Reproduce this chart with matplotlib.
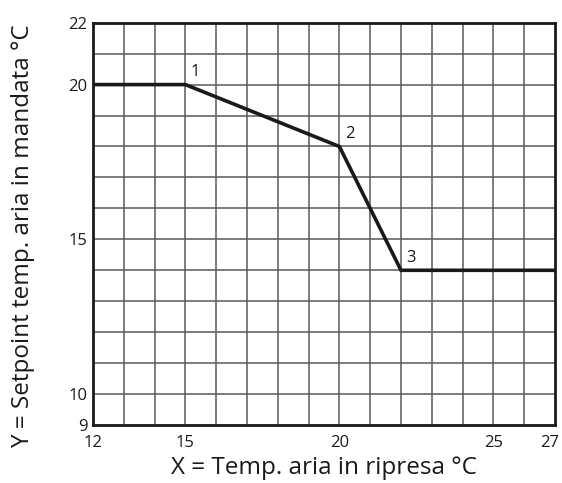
import matplotlib
matplotlib.use("Agg")
import matplotlib.pyplot as plt
from matplotlib.transforms import ScaledTranslation

plt.rcParams['font.family'] = ['Open Sans', 'DejaVu Sans']

# curve points (x = return air temp, y = supply setpoint)
x_vals = [12, 15, 20, 22, 27]
y_vals = [20, 20, 18, 14, 14]

# numbered break points
point_labels = ["1", "2", "3"]
point_x = [15, 20, 22]
point_y = [20, 18, 14]

x_ticks = [12, 15, 20, 25, 27]
y_ticks = [9, 10, 15, 20, 22]

fig = plt.figure(figsize=(5.62, 4.83), dpi=100)
ax = fig.add_axes([0.1655, 0.120, 0.822, 0.833])

ax.set_xlim(12, 27)
ax.set_ylim(9, 22)

# 1-unit grid
for gx in range(13, 27):
    ax.axvline(gx, color='#5a5a5a', lw=1.1, zorder=1)
for gy in range(10, 22):
    ax.axhline(gy, color='#5a5a5a', lw=1.1, zorder=1)

ax.plot(x_vals, y_vals, color='#1a1a1a', lw=2.6, zorder=3, solid_joinstyle='miter')

for lab, px, py in zip(point_labels, point_x, point_y):
    ax.annotate(lab, (px, py), xytext=(4, 3), textcoords='offset points',
                fontsize=12, color='#1a1a1a', ha='left', va='bottom')

ax.set_xticks(x_ticks)
ax.set_yticks(y_ticks)
ax.tick_params(length=0, labelsize=12, colors='#1a1a1a')
ax.tick_params(axis='x', pad=7)
ax.tick_params(axis='y', pad=4)

# nudge the last x label so it stays inside the figure
last = ax.get_xticklabels()[-1]
last.set_transform(last.get_transform() + ScaledTranslation(-4 / 72, 0, fig.dpi_scale_trans))

for sp in ax.spines.values():
    sp.set_linewidth(2.0)
    sp.set_color('#1a1a1a')

ax.set_xlabel("X = Temp. aria in ripresa °C", fontsize=17.5, color='#1a1a1a')
ax.set_ylabel("Y = Setpoint temp. aria in mandata °C", fontsize=17.5, color='#1a1a1a')
ax.xaxis.set_label_coords(0.5, -0.077)
ax.yaxis.set_label_coords(-0.125, 0.47)

fig.savefig("out.png", dpi=100)
